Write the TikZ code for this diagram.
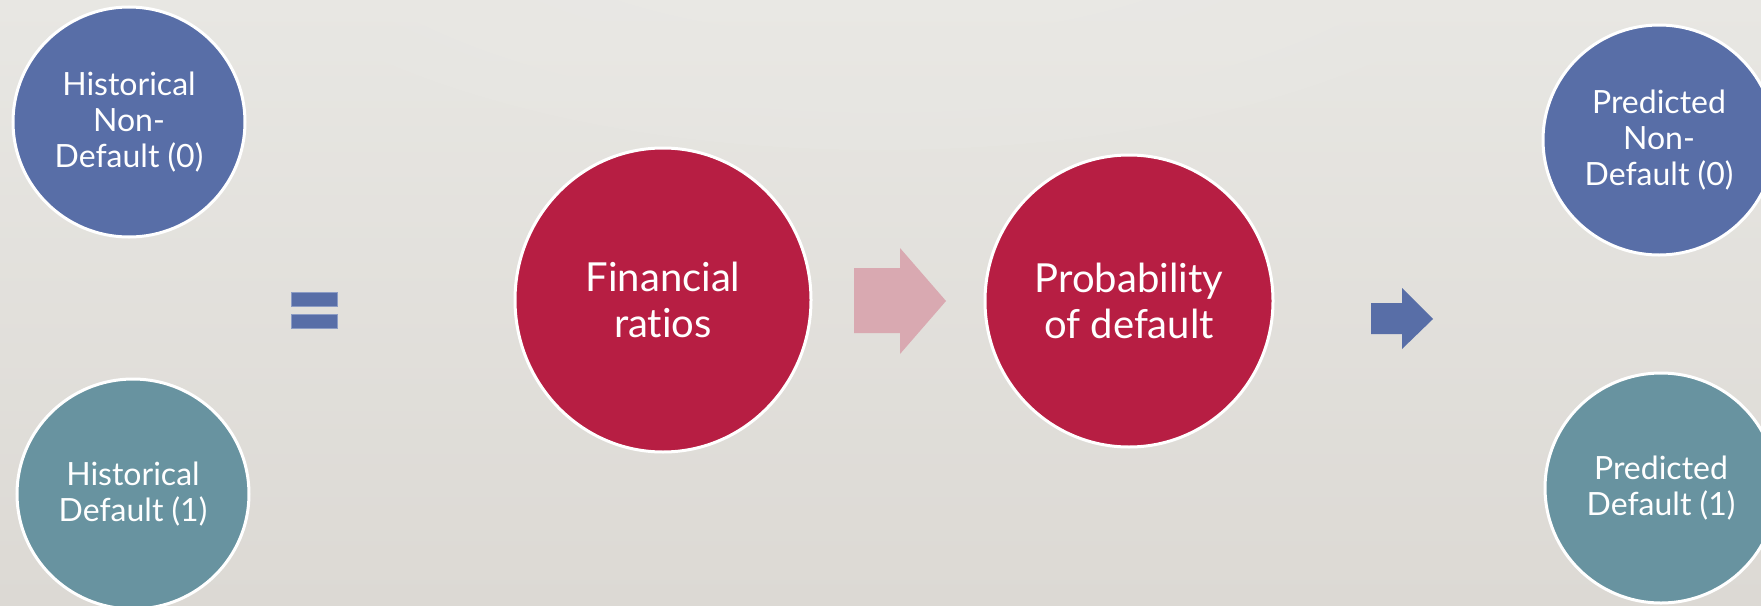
\documentclass[tikz,border=0pt]{standalone}
\usepackage{fontspec}
\setmainfont{Lato}[Ligatures={NoCommon,NoRare}]
\usetikzlibrary{shapes.geometric}
\definecolor{bgA}{RGB}{232,231,227}
\definecolor{bgB}{RGB}{220,217,212}
\definecolor{bgC}{RGB}{236,235,232}
\definecolor{hblue}{RGB}{88,110,167}
\definecolor{hblueedge}{RGB}{140,156,196}
\definecolor{hteal}{RGB}{104,147,160}
\definecolor{hred}{RGB}{183,30,67}
\definecolor{hpink}{RGB}{217,169,177}
\tikzset{
  bubble/.style={ellipse, draw=white, line width=3pt, text=white, align=center, inner sep=0pt},
  smallbubble/.style={bubble, minimum width=232pt, minimum height=230pt, font=\fontsize{32}{36}\selectfont},
  bigbubble/.style={bubble, fill=hred, font=\fontsize{40}{46}\selectfont},
}
\begin{document}
\begin{tikzpicture}[x=1pt,y=-1pt]
\useasboundingbox (0,0) rectangle (1761,605);
\clip (0,0) rectangle (1761,605);
\shade[top color=bgA,bottom color=bgB] (0,0) rectangle (1761,605);
\shade[inner color=bgC, outer color=bgA, opacity=0.6] (880,-150) ellipse (700 and 300);
% left pair
\node[smallbubble, fill=hblue] (hnd) at (129,122) {Historical\\Non-\\Default (0)};
\node[smallbubble, fill=hteal] (hd) at (133,494) {Historical\\Default (1)};
% equals sign
\fill[hblue, draw=hblueedge, line width=0.8pt] (291,292) rectangle (337,306);
\fill[hblue, draw=hblueedge, line width=0.8pt] (291,314) rectangle (337,328);
% centre
\node[bigbubble, minimum width=296pt, minimum height=304pt] (fin) at (663,300) {Financial\\ratios};
\fill[hpink] (854,268) -- (900,268) -- (900,248) -- (946,301) -- (900,354) -- (900,333) -- (854,333) -- cycle;
\node[bigbubble, minimum width=288pt, minimum height=292pt] (pd) at (1129,301) {Probability\\of default};
\fill[hblue] (1371,303) -- (1402,303) -- (1402,288) -- (1433,319) -- (1402,349) -- (1402,334) -- (1371,334) -- cycle;
% right pair
\node[smallbubble, fill=hblue] (pnd) at (1659,140) {Predicted\\Non-\\Default (0)};
\node[smallbubble, fill=hteal] (pdf) at (1661,488) {Predicted\\Default (1)};
\end{tikzpicture}
\end{document}
